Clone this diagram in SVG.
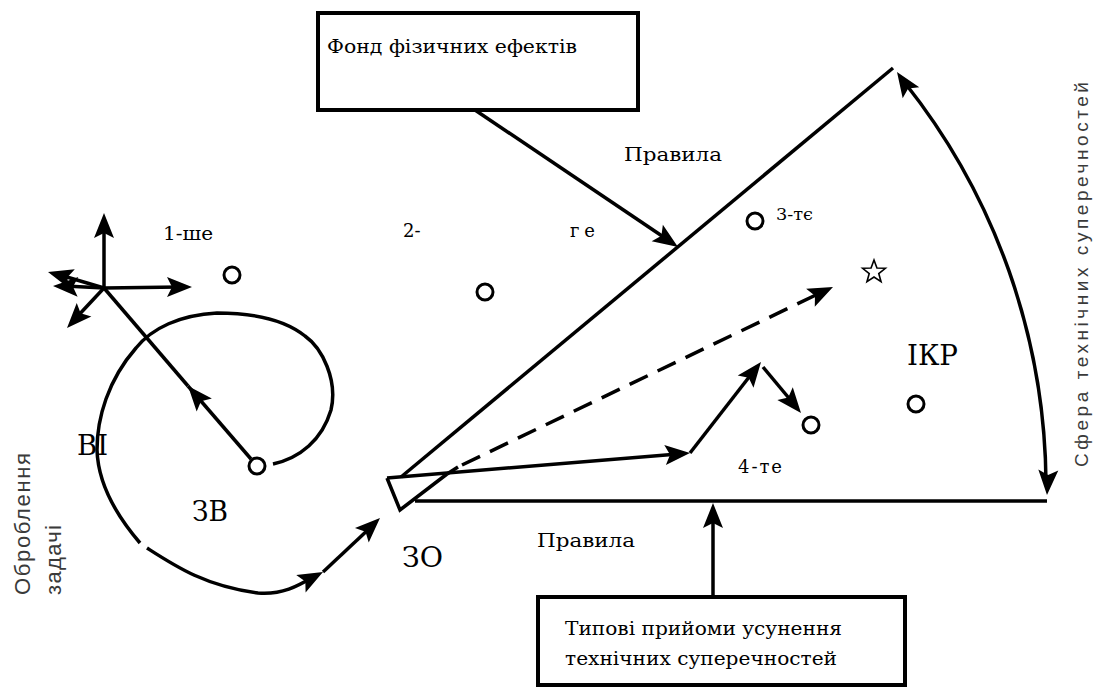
<svg xmlns="http://www.w3.org/2000/svg" width="1104" height="688" viewBox="0 0 1104 688">
<style>
.ln{stroke:#000;stroke-width:3.5;fill:none;stroke-linecap:butt;stroke-linejoin:miter}
.box{stroke:#000;stroke-width:4;fill:#fff}
.pt{fill:none;stroke:#000;stroke-width:3}
.dash{stroke-dasharray:20 11}
.t{font-family:'DejaVu Serif','Liberation Serif',serif}
.v{font-family:'Liberation Sans','DejaVu Sans',sans-serif}
</style>
<defs>
<path id="head" d="M0,0 L-25,-10 L-20,0 L-25,10 z" fill="#000"/>
</defs>
<rect width="1104" height="688" fill="#fff"/>

<g id="box-fond">
<rect class="box" x="318" y="13" width="320" height="97"/>
<text class="t" x="327" y="53" font-size="19" textLength="250" lengthAdjust="spacingAndGlyphs">Фонд фізичних ефектів</text>
</g>

<g id="box-typical">
<rect class="box" x="538" y="597" width="367" height="88"/>
<text class="t" x="565" y="635" font-size="19" textLength="277" lengthAdjust="spacingAndGlyphs">Типові прийоми усунення</text>
<text class="t" x="565" y="665" font-size="19" textLength="272" lengthAdjust="spacingAndGlyphs">технічних  суперечностей</text>
</g>

<g id="sector">
<path class="ln" d="M401,477 L893,68"/>
<path class="ln" d="M415,501 L1047,501"/>
<path class="ln" d="M387,478 L400,510 L447,474"/>
</g>

<g id="points">
<circle class="pt" cx="232" cy="275" r="8"/>
<circle class="pt" cx="485" cy="292" r="8"/>
<circle class="pt" cx="755" cy="221" r="8"/>
<circle class="pt" cx="811" cy="425" r="8"/>
<circle class="pt" cx="916" cy="404" r="8"/>
<circle class="pt" cx="257" cy="466" r="8"/>
<polygon id="star" points="874,260 876.94,267.95 885.41,268.29 878.76,273.55 881.05,281.71 874,277 866.95,281.71 869.24,273.55 862.59,268.29 871.06,267.95" fill="none" stroke="#000" stroke-width="1.6"/>
</g>

<g id="connectors">
<path class="ln" d="M475,110 L665,238"/>
<path class="ln" d="M713,597 L713,515"/>
<path class="ln" d="M905,83 A650,650 0 0,1 1046,482"/>
<path class="ln" d="M447,474 L458,467"/>
<path class="ln dash" d="M462,465 L822,292"/>
<path class="ln" d="M387,478 L678,454"/>
<path class="ln" d="M690,453 L753,372"/>
<path class="ln" d="M763,367 L793,403"/>
<path class="ln" d="M104,288 L104,225"/>
<path class="ln" d="M104,288 L180,287"/>
<path class="ln" d="M104,288 L60,275"/>
<path class="ln" d="M104,288 L65,286"/>
<path class="ln" d="M104,288 L75,319"/>
<path class="ln" d="M251,459 L188,386"/>
<path class="ln" d="M188,386 L104,288"/>
<path class="ln" d="M273,464 C300,458 322,440 331,410 C338,380 322,348 305,336 C285,320 255,313 217,313 C180,315 152,328 136,348 C108,380 97,418 97,450 C98,482 116,515 140,543"/>
<path class="ln" d="M147,548 C175,566 205,586 258,593 C282,595 298,586 313,577"/>
<path class="ln" d="M323,572 L371,527"/>
<g id="arrowheads">
<use href="#head" transform="translate(678,247) rotate(34)"/>
<use href="#head" transform="translate(713,503) rotate(-90)"/>
<use href="#head" transform="translate(897,72) rotate(-124)"/>
<use href="#head" transform="translate(1047,495) rotate(93)"/>
<use href="#head" transform="translate(833,287) rotate(-25.6)"/>
<use href="#head" transform="translate(690,453) rotate(-4.7)"/>
<use href="#head" transform="translate(761,362) rotate(-52)"/>
<use href="#head" transform="translate(801,413) rotate(50.4)"/>
<use href="#head" transform="translate(104,213) rotate(-90)"/>
<use href="#head" transform="translate(192,287) rotate(0)"/>
<use href="#head" transform="translate(48,272) rotate(196)"/>
<use href="#head" transform="translate(53,286) rotate(182)"/>
<use href="#head" transform="translate(67,328) rotate(133)"/>
<use href="#head" transform="translate(188,386) rotate(-130.6)"/>
<use href="#head" transform="translate(323,572) rotate(-28)"/>
<use href="#head" transform="translate(380,518) rotate(-43.5)"/>
</g>
</g>

<g id="labels" fill="#000">
<text class="t" x="624" y="161" font-size="18" textLength="98" lengthAdjust="spacingAndGlyphs">Правила</text>
<text class="t" x="537" y="547" font-size="18" textLength="98" lengthAdjust="spacingAndGlyphs">Правила</text>
<text class="t" x="163" y="240" font-size="18" textLength="50" lengthAdjust="spacingAndGlyphs">1-ше</text>
<text class="t" x="403" y="237" font-size="18">2-</text>
<text class="t" x="570" y="237" font-size="18" textLength="25" lengthAdjust="spacing">ге</text>
<text class="t" x="776" y="220" font-size="16" textLength="37" lengthAdjust="spacingAndGlyphs">3-тє</text>
<text class="t" x="738" y="473" font-size="18" textLength="44" lengthAdjust="spacing">4-те</text>
<text class="t" x="77" y="455" font-size="27" textLength="31" lengthAdjust="spacingAndGlyphs">ВІ</text>
<text class="t" x="192" y="521" font-size="27" textLength="36" lengthAdjust="spacingAndGlyphs">ЗВ</text>
<text class="t" x="402" y="567" font-size="27" textLength="41" lengthAdjust="spacingAndGlyphs">ЗО</text>
<text class="t" x="907" y="365" font-size="27" textLength="51" lengthAdjust="spacingAndGlyphs">ІКР</text>
</g>
<g id="side-labels" fill="#3a3a3a">
<text class="v" transform="translate(1088,467) rotate(-90)" font-size="19" textLength="385" lengthAdjust="spacing">Сфера технічних  суперечностей</text>
<text class="v" transform="translate(30,595) rotate(-90)" font-size="22" textLength="142" lengthAdjust="spacing">Оброблення</text>
<text class="v" transform="translate(61,595) rotate(-90)" font-size="22" textLength="70" lengthAdjust="spacing">задачі</text>
</g>
</svg>
